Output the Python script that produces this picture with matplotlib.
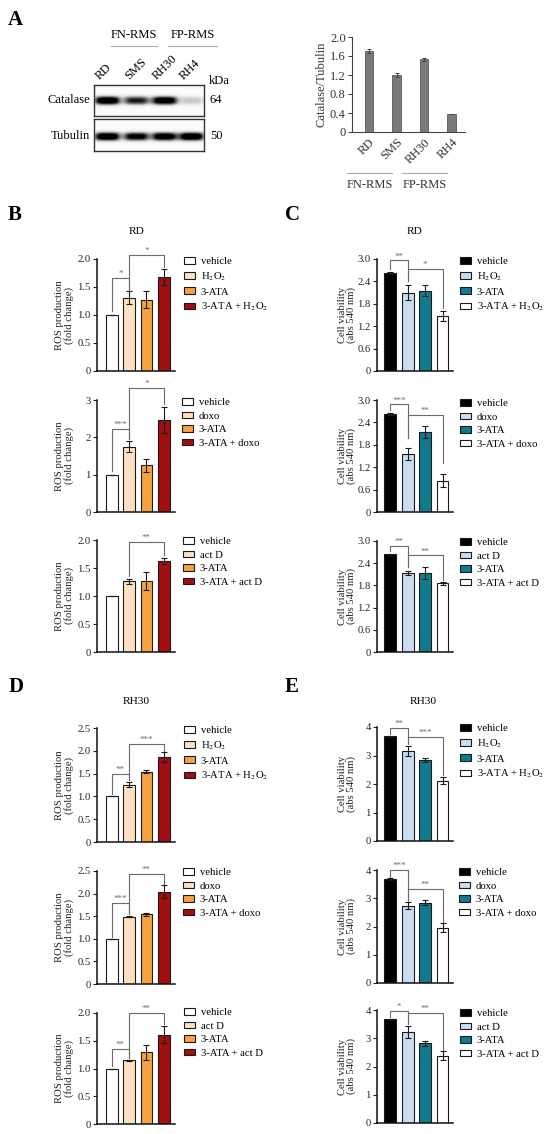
import numpy as np
import matplotlib
matplotlib.use("Agg")
import matplotlib.pyplot as plt
from matplotlib.patches import Patch
from matplotlib.lines import Line2D

plt.rcParams["font.family"] = ["Liberation Serif", "DejaVu Serif"]
plt.rcParams["mathtext.fontset"] = "stix"

W, H = 550, 1134
fig = plt.figure(figsize=(W / 100, H / 100), dpi=100)


def fx(x):
    return x / W


def fy(y):
    return 1 - y / H


def px_axes(x0, y0, x1, y1):
    return fig.add_axes([x0 / W, 1 - y1 / H, (x1 - x0) / W, (y1 - y0) / H])


# ---------------- Panel A data ----------------
cell_lines = ["RD", "SMS", "RH30", "RH4"]
catalase_ratio = [1.70, 1.20, 1.53, 0.37]
catalase_ratio_err = [0.04, 0.04, 0.03, 0.0]
catalase_band = [1.0, 0.75, 0.97, 0.25]
tubulin_band = [1.0, 0.88, 0.95, 1.0]
blot_proteins = ["Catalase", "Tubulin"]
blot_mw = ["64", "50"]
rms_groups = ["FN-RMS", "FP-RMS"]
a_yticks = [0, 0.4, 0.8, 1.2, 1.6, 2.0]
a_yticklabels = ["0", "0.4", "0.8", "1.2", "1.6", "2.0"]

# ---------------- Panels B-E data ----------------
treatments = ["H$_2$O$_2$", "doxo", "act D"]
ros_colors = ["#ffffff", "#fde1c2", "#f6a240", "#a20e12"]
via_colors = ["#000000", "#c8dcf2", "#117b8d", "#ffffff"]

# B: RD ROS production
B_vals = [[1.0, 1.31, 1.27, 1.68], [1.0, 1.75, 1.25, 2.47], [1.0, 1.26, 1.27, 1.63]]
B_errs = [[0.0, 0.11, 0.15, 0.15], [0.0, 0.15, 0.17, 0.35], [0.0, 0.05, 0.16, 0.05]]
B_sig = [[(0, 1, 1.66, 1.08, 1.45, "*"), (1, 3, 2.07, 1.45, 1.86, "*")],
         [(0, 1, 2.22, 1.10, 1.95, "***"), (1, 3, 3.32, 1.95, 2.88, "*")],
         [(1, 3, 1.97, 1.36, 1.74, "**")]]
# C: RD cell viability
C_vals = [[2.63, 2.10, 2.15, 1.48], [2.63, 1.55, 2.14, 0.84], [2.64, 2.14, 2.14, 1.86]]
C_errs = [[0.02, 0.20, 0.15, 0.13], [0.02, 0.17, 0.17, 0.18], [0.02, 0.06, 0.17, 0.04]]
C_sig = [[(0, 1, 2.96, 2.72, 2.40, "**"), (1, 3, 2.74, 2.40, 1.68, "*")],
         [(0, 1, 2.88, 2.72, 1.98, "***"), (1, 3, 2.60, 1.98, 1.30, "**")],
         [(0, 1, 2.86, 2.72, 2.30, "**"), (1, 3, 2.61, 2.30, 1.95, "**")]]
# D: RH30 ROS production
D_vals = [[1.0, 1.26, 1.54, 1.86], [1.0, 1.49, 1.54, 2.04], [1.0, 1.15, 1.29, 1.61]]
D_errs = [[0.0, 0.06, 0.03, 0.11], [0.0, 0.01, 0.04, 0.14], [0.0, 0.01, 0.14, 0.15]]
D_sig = [[(0, 1, 1.50, 1.05, 1.36, "**"), (1, 3, 2.15, 1.36, 2.00, "***")],
         [(0, 1, 1.80, 1.05, 1.55, "***"), (1, 3, 2.43, 1.55, 2.22, "**")],
         [(0, 1, 1.35, 1.05, 1.19, "**"), (1, 3, 2.00, 1.19, 1.80, "**")]]
# E: RH30 cell viability
E_vals = [[3.68, 3.16, 2.84, 2.12], [3.68, 2.73, 2.84, 1.95], [3.67, 3.23, 2.82, 2.38]]
E_errs = [[0.02, 0.17, 0.08, 0.13], [0.02, 0.12, 0.09, 0.16], [0.02, 0.22, 0.08, 0.16]]
E_sig = [[(0, 1, 3.98, 3.75, 3.40, "**"), (1, 3, 3.65, 3.40, 2.30, "***")],
         [(0, 1, 4.00, 3.76, 2.90, "***"), (1, 3, 3.32, 2.90, 2.15, "**")],
         [(0, 1, 3.96, 3.75, 3.50, "*"), (1, 3, 3.88, 3.50, 2.60, "**")]]

ros_ylabel = "ROS production\n(fold change)"
via_ylabel = "Cell viability\n(abs 540 nm)"

B_yticks = [[0, 0.5, 1.0, 1.5, 2.0], [0, 1, 2, 3], [0, 0.5, 1.0, 1.5, 2.0]]
B_ytl = [["0", "0.5", "1.0", "1.5", "2.0"], ["0", "1", "2", "3"], ["0", "0.5", "1.0", "1.5", "2.0"]]
C_yticks = [[0, 0.6, 1.2, 1.8, 2.4, 3.0]] * 3
C_ytl = [["0", "0.6", "1.2", "1.8", "2.4", "3.0"]] * 3
D_yticks = [[0, 0.5, 1.0, 1.5, 2.0, 2.5], [0, 0.5, 1.0, 1.5, 2.0, 2.5], [0, 0.5, 1.0, 1.5, 2.0]]
D_ytl = [["0", "0.5", "1.0", "1.5", "2.0", "2.5"], ["0", "0.5", "1.0", "1.5", "2.0", "2.5"],
         ["0", "0.5", "1.0", "1.5", "2.0"]]
E_yticks = [[0, 1, 2, 3, 4]] * 3
E_ytl = [["0", "1", "2", "3", "4"]] * 3

# ---------------- layout (pixels) ----------------
left_rects = {"B": [(97, 259, 175, 371), (97, 400, 175, 512), (97, 540, 175, 652)],
              "D": [(97, 728, 175, 842), (97, 871, 175, 984), (97, 1013, 175, 1124)]}
right_rects = {"C": [(377, 259, 453, 371), (377, 400, 453, 512), (377, 541, 453, 652)],
               "E": [(377, 727, 453, 841), (377, 870, 453, 983), (377, 1010, 453, 1123)]}
leg_left = {"B": [(184, 262), (182, 403), (183, 542)], "D": [(184, 731), (183, 873), (184, 1013)]}
leg_right = {"C": [(460, 262), (460, 404), (460, 543)], "E": [(460, 729), (459, 873), (460, 1014)]}

EDGE = "#1a1a1a"
SIGC = "#6a6a6a"
FS = 7.7


def bar_panel(rect, xlim, vals, errs, colors, yticks, ytl, ylabel, ylab_x, labels, leg_xy, brackets):
    ax = px_axes(*rect)
    x = np.arange(len(vals))
    ax.bar(x, vals, width=0.68, color=colors, edgecolor=EDGE, linewidth=0.8, zorder=2)
    ax.errorbar(x, vals, yerr=errs, fmt="none", ecolor=EDGE, elinewidth=0.8,
                capsize=2.0, capthick=0.8, zorder=3)
    ax.set_xlim(*xlim)
    ax.set_ylim(0, yticks[-1])
    ax.set_yticks(yticks)
    ax.set_yticklabels(ytl)
    ax.set_xticks([])
    for s in ("top", "right"):
        ax.spines[s].set_visible(False)
    for s in ("left", "bottom"):
        ax.spines[s].set_linewidth(1.1)
        ax.spines[s].set_color("#111")
    ax.tick_params(axis="y", length=3, width=0.8, labelsize=FS, pad=1.5, colors="#222")
    ax.set_ylabel(ylabel, fontsize=FS, linespacing=1.05, color="#222")
    ax.yaxis.set_label_coords(ylab_x, 0.5)
    for (i, j, yb, yl1, yl2, s) in brackets:
        ax.plot([i, i, j, j], [yl1, yb, yb, yl2], color=SIGC, lw=0.8, clip_on=False, zorder=4)
        ax.text((i + j) / 2, yb, s, ha="center", va="bottom", fontsize=6.5, color=SIGC)
    handles = [Patch(facecolor=c, edgecolor=EDGE, linewidth=0.8, label=l) for c, l in zip(colors, labels)]
    ax.legend(handles=handles, loc="upper left",
              bbox_to_anchor=(fx(leg_xy[0]), fy(leg_xy[1] - 5)), bbox_transform=fig.transFigure,
              frameon=False, fontsize=FS, handlelength=1.0, handleheight=0.62, handletextpad=0.55,
              labelspacing=0.4, borderpad=0, borderaxespad=0)
    return ax


for k in range(3):
    labs = ["vehicle", treatments[k], "3-ATA", "3-ATA + " + treatments[k]]
    bar_panel(left_rects["B"][k], (-0.85, 3.65), B_vals[k], B_errs[k], ros_colors, B_yticks[k], B_ytl[k],
              ros_ylabel, -0.29, labs, leg_left["B"][k], B_sig[k])
    bar_panel(left_rects["D"][k], (-0.85, 3.65), D_vals[k], D_errs[k], ros_colors, D_yticks[k], D_ytl[k],
              ros_ylabel, -0.29, labs, leg_left["D"][k], D_sig[k])
    bar_panel(right_rects["C"][k], (-0.75, 3.6), C_vals[k], C_errs[k], via_colors, C_yticks[k], C_ytl[k],
              via_ylabel, -0.27, labs, leg_right["C"][k], C_sig[k])
    bar_panel(right_rects["E"][k], (-0.75, 3.6), E_vals[k], E_errs[k], via_colors, E_yticks[k], E_ytl[k],
              via_ylabel, -0.27, labs, leg_right["E"][k], E_sig[k])

# titles and panel letters
fig.text(fx(137), fy(232), "RD", ha="center", va="center", fontsize=8.2)
fig.text(fx(415), fy(232), "RD", ha="center", va="center", fontsize=8.2)
fig.text(fx(136), fy(702), "RH30", ha="center", va="center", fontsize=8.2)
fig.text(fx(423), fy(702), "RH30", ha="center", va="center", fontsize=8.2)
for letter, (lx, ly) in {"A": (15, 20), "B": (15, 215), "C": (292, 215), "D": (16, 687), "E": (292, 687)}.items():
    fig.text(fx(lx), fy(ly), letter, ha="center", va="center", fontsize=15, fontweight="bold")

# ---------------- Panel A: western blot ----------------
lane_px = [107, 136, 164, 191]


def blot_image(intens, centers, cy, nx, ny, wx=13.0, wy=4.3):
    xx = np.arange(nx)[None, :]
    yy = np.arange(ny)[:, None]
    img = np.zeros((ny, nx)) + 0.03
    for a, cx in zip(intens, centers):
        img += 1.2 * a * np.exp(-(np.abs(xx - cx) / wx) ** 4) * np.exp(-(np.abs(yy - cy) / wy) ** 2.5)
    return np.clip(img, 0, 1)


blot_boxes = [(94, 85, 204, 116), (94, 119, 204, 151)]
band_rows = [catalase_band, tubulin_band]
band_cy = [100, 136]
for box, bands, cy, prot, mw in zip(blot_boxes, band_rows, band_cy, blot_proteins, blot_mw):
    bx = px_axes(*box)
    nx, ny = box[2] - box[0], box[3] - box[1]
    img = blot_image(bands, [c - box[0] for c in lane_px], cy - box[1], nx, ny)
    bx.imshow(img, cmap="Greys", vmin=0, vmax=1.0, extent=(0, nx, ny, 0), aspect="auto",
              interpolation="bilinear")
    bx.set_xticks([])
    bx.set_yticks([])
    for s in bx.spines.values():
        s.set_linewidth(1.0)
        s.set_color("#333")
    fig.text(fx(90), fy(cy), prot, ha="right", va="center", fontsize=9)
    fig.text(fx(210), fy(cy), mw, ha="left", va="center", fontsize=9)
fig.text(fx(209), fy(81), "kDa", ha="left", va="center", fontsize=9)
for name, lx in zip(cell_lines, lane_px):
    fig.text(fx(lx - 7), fy(80), name, rotation=45, rotation_mode="anchor", ha="left", va="baseline",
             fontsize=9)
for name, (x0, x1) in zip(rms_groups, [(111, 157), (168, 217)]):
    fig.text(fx((x0 + x1) / 2), fy(35), name, ha="center", va="center", fontsize=9)
    fig.add_artist(Line2D([fx(x0), fx(x1)], [fy(46), fy(46)], color="#aaa", lw=0.8))

# ---------------- Panel A: quantification ----------------
axA = px_axes(352, 37, 465, 132)
xa = np.arange(len(cell_lines))
axA.bar(xa, catalase_ratio, width=0.32, color="#7a7a7a", edgecolor="#5a5a5a", linewidth=0.6, zorder=2)
axA.errorbar(xa, catalase_ratio, yerr=catalase_ratio_err, fmt="none", ecolor="#444", elinewidth=0.7,
             capsize=1.5, capthick=0.7, zorder=3)
axA.set_xlim(-0.62, 3.49)
axA.set_ylim(0, 2.0)
axA.set_yticks(a_yticks)
axA.set_yticklabels(a_yticklabels)
axA.set_xticks(xa)
axA.set_xticklabels(cell_lines, rotation=45, ha="right", va="top", rotation_mode="anchor")
for s in ("top", "right"):
    axA.spines[s].set_visible(False)
for s in ("left", "bottom"):
    axA.spines[s].set_linewidth(0.8)
    axA.spines[s].set_color("#444")
axA.tick_params(axis="y", length=3, width=0.7, labelsize=9, pad=1.5, colors="#333")
axA.tick_params(axis="x", length=0, labelsize=9, pad=3, colors="#333")
axA.set_ylabel("Catalase/Tubulin", fontsize=9, color="#333")
axA.yaxis.set_label_coords(-0.22, 0.5)
for name, (x0, x1) in zip(rms_groups, [(347, 392), (402, 447)]):
    fig.add_artist(Line2D([fx(x0), fx(x1)], [fy(173), fy(173)], color="#aaa", lw=0.8))
    fig.text(fx((x0 + x1) / 2), fy(185), name, ha="center", va="center", fontsize=9, color="#333")

fig.savefig("out.png", dpi=100)
